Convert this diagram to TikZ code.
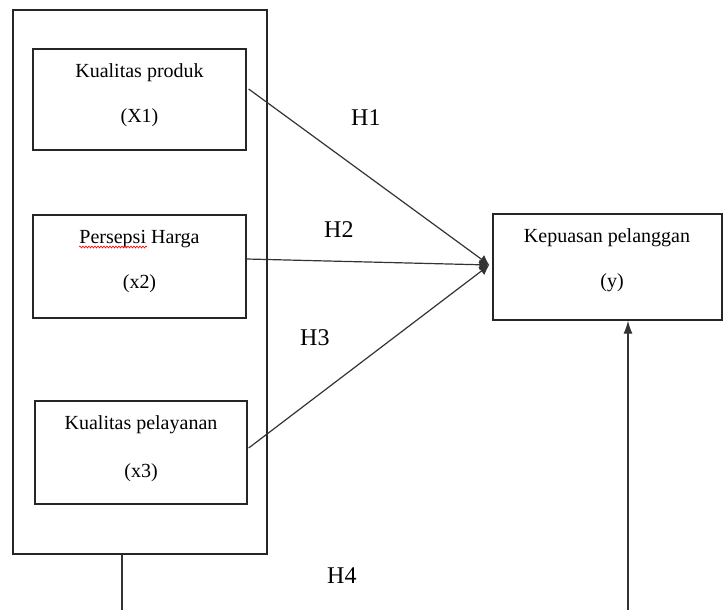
\documentclass[tikz,border=0pt]{standalone}
\usepackage{fontspec}
\setmainfont{Liberation Serif}
\usetikzlibrary{arrows.meta,decorations.pathmorphing,calc}
\begin{document}
\begin{tikzpicture}[x=1pt,y=-1pt,
  box/.style={draw=black!85,line width=1.3pt,rectangle,inner sep=0pt},
  btxt/.style={anchor=base,inner sep=0pt,font=\fontsize{20}{20}\selectfont},
  hlab/.style={anchor=base west,inner sep=0pt,font=\fontsize{24}{24}\selectfont},
  conn/.style={draw=black!80,line width=1.2pt},
  tip/.style={-{Latex[length=10pt,width=10pt]}}]
\useasboundingbox (0,0) rectangle (724,610);
% outer group box
\node[box,minimum width=254pt,minimum height=544pt] (outer) at (140,282) {};
% X1
\node[box,minimum width=213pt,minimum height=101pt] (bx1) at (139.5,99.5) {};
\node[btxt] (tx1a) at (139.5,78) {Kualitas produk};
\node[btxt] (tx1b) at (139.5,123) {(X1)};
% x2
\node[box,minimum width=213pt,minimum height=103pt] (bx2) at (139.5,266.5) {};
\node[btxt] (tx2a) at (139.5,243) {Persepsi Harga};
\node[btxt] (tx2b) at (139.5,288) {(x2)};
\draw[red,line width=0.6pt,decorate,decoration={snake,amplitude=1pt,segment length=3pt}] (79,247) -- (147,247);
% x3
\node[box,minimum width=212pt,minimum height=103pt] (bx3) at (141,452.5) {};
\node[btxt] (tx3a) at (141,429) {Kualitas pelayanan};
\node[btxt] (tx3b) at (141,477) {(x3)};
% y
\node[box,minimum width=229pt,minimum height=106pt] (by) at (607.5,267) {};
\node[btxt] (tya) at (607,242) {Kepuasan pelanggan};
\node[btxt] (tyb) at (612,287) {(y)};
% labels
\node[hlab] (h1) at (351,125) {H1};
\node[hlab] (h2) at (324,237) {H2};
\node[hlab] (h3) at (300,345) {H3};
\node[hlab] (h4) at (327,583) {H4};
% connector anchors
\coordinate (s1) at ($(bx1.east)+(2,-10.5)$);
\coordinate (s2) at ($(bx2.east)+(0,-7.5)$);
\coordinate (s3) at ($(bx3.east)+(1,-4.5)$);
\coordinate (t) at ($(by.west)+(-3,-2)$);
\coordinate (o4) at (outer.south -| 122,0);
\coordinate (e4) at (122,610);
\coordinate (f4) at (628,610);
\coordinate (g4) at (by.south -| 628,0);
\draw[conn,tip] (s1) -- (t);
\draw[conn,tip] (s2) -- (t);
\draw[conn,tip] (s3) -- (t);
\draw[conn] (o4) -- (e4);
\draw[conn,-{Latex[length=13pt,width=9pt]}] (f4) -- (g4);
\end{tikzpicture}
\end{document}
